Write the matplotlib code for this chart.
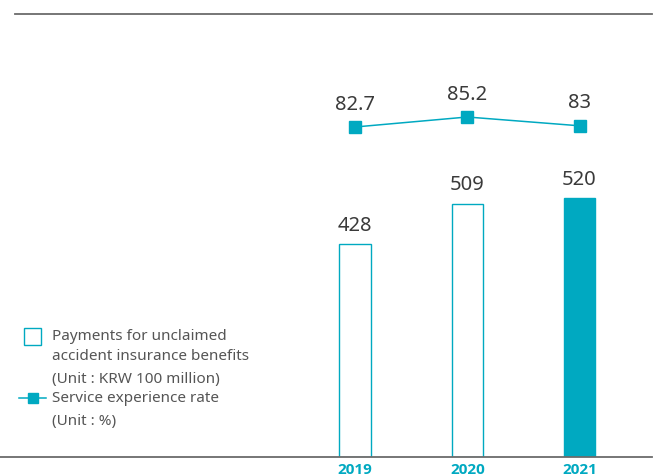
import matplotlib
matplotlib.use("Agg")
import matplotlib.pyplot as plt
from matplotlib.patches import Rectangle
from matplotlib.lines import Line2D

plt.rcParams['font.family'] = ['Noto Sans', 'DejaVu Sans']

years = ["2019", "2020", "2021"]
payments = [428, 509, 520]          # KRW 100 million
service_rate = [82.7, 85.2, 83]     # %
rate_labels = ["82.7", "85.2", "83"]

TEAL = "#00a9c1"
TEXT = "#3a3a3a"
GRAY = "#6b6b6b"

W, H = 656, 476
fig = plt.figure(figsize=(W / 100, H / 100), dpi=100)

base_px = 457
ax = fig.add_axes([0, (H - base_px) / H, 1, base_px / H])
x = list(range(len(years)))
ax.set_xlim(-3.163, 2.681)
ax.set_ylim(0, 917.7)

for i, (xi, v) in enumerate(zip(x, payments)):
    last = i == len(years) - 1
    ax.bar(xi, v, width=0.28, color=TEAL if last else "white",
           edgecolor=TEAL, linewidth=1.0, zorder=2)
    ax.annotate(str(v), (xi, v), xytext=(0, 6), textcoords="offset points",
                ha="center", va="bottom", fontsize=14.5, color=TEXT)

ax.axis("off")

ax2 = ax.twinx()
ax2.set_xlim(ax.get_xlim())
ax2.set_ylim(0.2, 114.45)
ax2.plot(x, service_rate, color=TEAL, linewidth=1.1, marker="s",
         markersize=8, markerfacecolor=TEAL, markeredgecolor=TEAL, zorder=3)
for xi, v, lab in zip(x, service_rate, rate_labels):
    ax2.annotate(lab, (xi, v), xytext=(0, 9), textcoords="offset points",
                 ha="center", va="bottom", fontsize=14.5, color=TEXT)
ax2.axis("off")

# year labels below the baseline
for xi, y in zip(x, years):
    ax.annotate(y, (xi, 0), xytext=(0, -4), textcoords="offset points",
                ha="center", va="top", fontsize=11, fontweight="bold",
                family=["Open Sans", "DejaVu Sans"],
                color=TEAL, annotation_clip=False)

# rules: top and baseline
fig.add_artist(Line2D([15 / W, 652 / W], [1 - 14 / H, 1 - 14 / H],
                      color=GRAY, linewidth=1.3))
fig.add_artist(Line2D([0, 652 / W], [1 - base_px / H, 1 - base_px / H],
                      color=GRAY, linewidth=1.3))

# legend
fig.add_artist(Rectangle((24 / W, 1 - 345 / H), 17 / W, 17 / H,
                         facecolor="white", edgecolor=TEAL, linewidth=1.0,
                         transform=fig.transFigure))
fig.add_artist(Line2D([19 / W, 46 / W], [1 - 398 / H, 1 - 398 / H],
                      color=TEAL, linewidth=1.1, transform=fig.transFigure))
fig.add_artist(Line2D([33 / W], [1 - 398 / H], color=TEAL, marker="s",
                      markersize=7.5, linestyle="none",
                      transform=fig.transFigure))
legend_lines = [
    ("Payments for unclaimed", 337),
    ("accident insurance benefits", 357),
    ("(Unit : KRW 100 million)", 379),
    ("Service experience rate", 399),
    ("(Unit : %)", 421),
]
for txt, ypx in legend_lines:
    fig.text(52 / W, 1 - ypx / H, txt, ha="left", va="center",
             fontsize=11, color="#555555")

fig.savefig("out.png", dpi=100)
